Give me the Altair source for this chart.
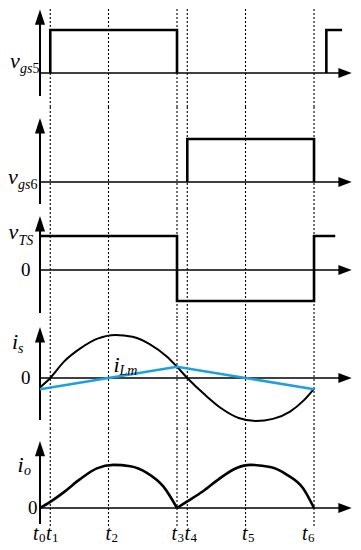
import altair as alt
import pandas as pd

FONT = "Liberation Serif"
INK = "#000000"
BLUE = "#1ba1e2"

# ---------------- data ----------------
X_DOMAIN = [-0.467, 4.569]
X_ARROW_TIP = 4.55
T_INSTANTS = [0.15, 1.0, 2.0, 2.15, 3.0, 4.0]          # t1..t6 (t0 = 0)
T_NAMES = ["0", "1", "2", "3", "4", "5", "6"]

VGS5_T = [0.15, 0.15, 2.0, 2.0, 4.18, 4.18, 4.41]
VGS5_V = [0, 1, 1, 0, 0, 1, 1]
VGS5_SEG = [0, 0, 0, 0, 1, 1, 1]

VGS6_T = [2.15, 2.15, 4.0, 4.0]
VGS6_V = [0, 1, 1, 0]

VTS_T = [0, 2.0, 2.0, 4.0, 4.0, 4.31]
VTS_V = [1, 1, -0.91, -0.91, 1, 1]

IS_T = [0, 0.15, 0.35, 0.6, 0.85, 1.1, 1.35, 1.6, 1.85, 2.0, 2.15, 2.4, 2.65,
        2.9, 3.15, 3.4, 3.65, 3.85, 4.0]
IS_V = [-0.22, 0, 0.38, 0.7, 0.92, 1.0, 0.96, 0.79, 0.5, 0.26, 0, -0.38, -0.71,
        -0.93, -1.0, -0.95, -0.78, -0.52, -0.25]

ILM_T = [0, 1.0, 2.0, 3.0, 4.0]
ILM_V = [-0.26, 0, 0.26, 0, -0.26]

IO_T = [0, 0.15, 0.34, 0.58, 0.83, 1.07, 1.32, 1.56, 1.8, 2.0,
        2.0, 2.15, 2.38, 2.63, 2.87, 3.07, 3.36, 3.6, 3.84, 4.0]
IO_V = [0, 0.14, 0.35, 0.65, 0.9, 0.98, 0.95, 0.8, 0.49, 0,
        0, 0.15, 0.38, 0.68, 0.91, 0.98, 0.93, 0.76, 0.45, 0]
IO_SEG = [0] * 10 + [1] * 10

# ---------------- panel frames ----------------
PANEL_HEIGHTS = [98, 102, 109, 111, 114]
PANEL_DOMAINS = [[-0.791, 1.488], [-0.628, 1.744], [-1.412, 1.794],
                 [-1.186, 1.395], [-0.795, 1.795]]
AXIS_BOTTOM = [-0.535, -0.512, -1.265, -0.977, -0.364]
ARROW_TIP = [1.477, 1.488, 1.588, 1.186, 1.523]
GUIDE_BOTTOM = [-0.791, -0.628, -1.412, -1.186, -0.409]

# labels: (t, v, text, fontsize, style)
LABELS = [
    [(-0.438, 0.116, "v", 22, "italic"), (-0.292, 0.0, "gs", 14, "italic"),
     (-0.110, 0.0, "5", 14, "normal")],
    [(-0.467, -0.047, "v", 22, "italic"), (-0.321, -0.163, "gs", 14, "italic"),
     (-0.139, -0.163, "6", 14, "normal")],
    [(-0.460, 0.912, "v", 22, "italic"), (-0.314, 0.735, "TS", 14, "italic"),
     (-0.277, -0.176, "0", 19, "normal")],
    [(-0.409, 0.674, "i", 22, "italic"), (-0.321, 0.581, "s", 14, "italic"),
     (-0.277, -0.140, "0", 19, "normal"),
     (1.073, 0.140, "i", 22, "italic"), (1.161, 0.070, "Lm", 14, "italic")],
    [(-0.328, 0.818, "i", 22, "italic"), (-0.234, 0.750, "o", 14, "italic"),
     (-0.175, -0.136, "0", 19, "normal")],
]
T_LABEL_T = [-0.102, 0.0876, 0.956, 1.920, 2.109, 2.949, 3.825]
T_LABEL_V = -0.727
T_SUB_V = -0.773
for tt, nm in zip(T_LABEL_T, T_NAMES):
    LABELS[4].append((tt, T_LABEL_V, "t", 20, "italic"))
    LABELS[4].append((tt + 0.0876, T_SUB_V, nm, 13, "normal"))

UP_ARROW = "M0,0L0.72,2.2L-0.72,2.2Z"
RIGHT_ARROW = "M0,0L-1.9,-0.72L-1.9,0.72Z"


def xenc(field="t"):
    return alt.X(f"{field}:Q", scale=alt.Scale(domain=X_DOMAIN, nice=False, zero=False),
                 axis=None)


def yenc(dom, field="v"):
    return alt.Y(f"{field}:Q", scale=alt.Scale(domain=dom, nice=False, zero=False),
                 axis=None)


def wave_df(ts, vs, seg=None):
    return pd.DataFrame({"t": ts, "v": vs, "i": list(range(len(ts))),
                         "seg": seg if seg is not None else [0] * len(ts)})


def wave_layer(df, dom, color, width, interp="linear"):
    return alt.Chart(df).mark_line(color=color, strokeWidth=width,
                                   interpolate=interp, strokeJoin="miter").encode(
        x=xenc(), y=yenc(dom), order=alt.Order("i:Q"), detail="seg:N")


def panel(k, waves):
    dom = PANEL_DOMAINS[k]
    guides = pd.DataFrame({"t": T_INSTANTS, "y0": GUIDE_BOTTOM[k], "y1": dom[1]})
    g = alt.Chart(guides).mark_rule(color=INK, strokeWidth=1.1, strokeDash=[2, 2]).encode(
        x=xenc(), y=yenc(dom, "y0"), y2="y1:Q")
    axes = pd.DataFrame({"t": [0, 0], "t2": [0, X_ARROW_TIP - 0.1],
                         "y0": [AXIS_BOTTOM[k], 0], "y1": [ARROW_TIP[k] - 0.15, 0],
                         "w": [2, 1.6]})
    ax = alt.Chart(axes).mark_rule(color=INK).encode(
        x=xenc(), x2="t2:Q", y=yenc(dom, "y0"), y2="y1:Q",
        strokeWidth=alt.StrokeWidth("w:Q", scale=None))
    up = alt.Chart(pd.DataFrame({"t": [0], "v": [ARROW_TIP[k]]})).mark_point(
        shape=UP_ARROW, size=196, filled=True, color=INK, opacity=1, strokeWidth=0).encode(
        x=xenc(), y=yenc(dom))
    right = alt.Chart(pd.DataFrame({"t": [X_ARROW_TIP], "v": [0]})).mark_point(
        shape=RIGHT_ARROW, size=196, filled=True, color=INK, opacity=1, strokeWidth=0).encode(
        x=xenc(), y=yenc(dom))
    lab = pd.DataFrame(LABELS[k], columns=["t", "v", "text", "fs", "style"])
    texts = []
    for style in ["italic", "normal"]:
        texts.append(alt.Chart(lab).transform_filter(alt.datum.style == style).mark_text(
            font=FONT, fontStyle=style, align="left", baseline="alphabetic", color=INK).encode(
            x=xenc(), y=yenc(dom), text="text:N", size=alt.Size("fs:Q", scale=None)))
    layers = [g, ax] + [w(dom) for w in waves] + [up, right] + texts
    return alt.layer(*layers).properties(width=345, height=PANEL_HEIGHTS[k])


p1 = panel(0, [lambda d: wave_layer(wave_df(VGS5_T, VGS5_V, VGS5_SEG), d, INK, 2.6)])
p2 = panel(1, [lambda d: wave_layer(wave_df(VGS6_T, VGS6_V), d, INK, 2.6)])
p3 = panel(2, [lambda d: wave_layer(wave_df(VTS_T, VTS_V), d, INK, 2.6)])
p4 = panel(3, [lambda d: wave_layer(wave_df(IS_T, IS_V), d, INK, 2.0, "monotone"),
               lambda d: wave_layer(wave_df(ILM_T, ILM_V), d, BLUE, 2.6)])
p5 = panel(4, [lambda d: wave_layer(wave_df(IO_T, IO_V, IO_SEG), d, INK, 2.6, "monotone")])

chart = alt.vconcat(p1, p2, p3, p4, p5, spacing=0, bounds="flush").resolve_scale(
    x="independent", y="independent").properties(padding=0).configure_view(stroke=None)

chart.save("out.html", embed_options={"renderer": "svg", "actions": False})
